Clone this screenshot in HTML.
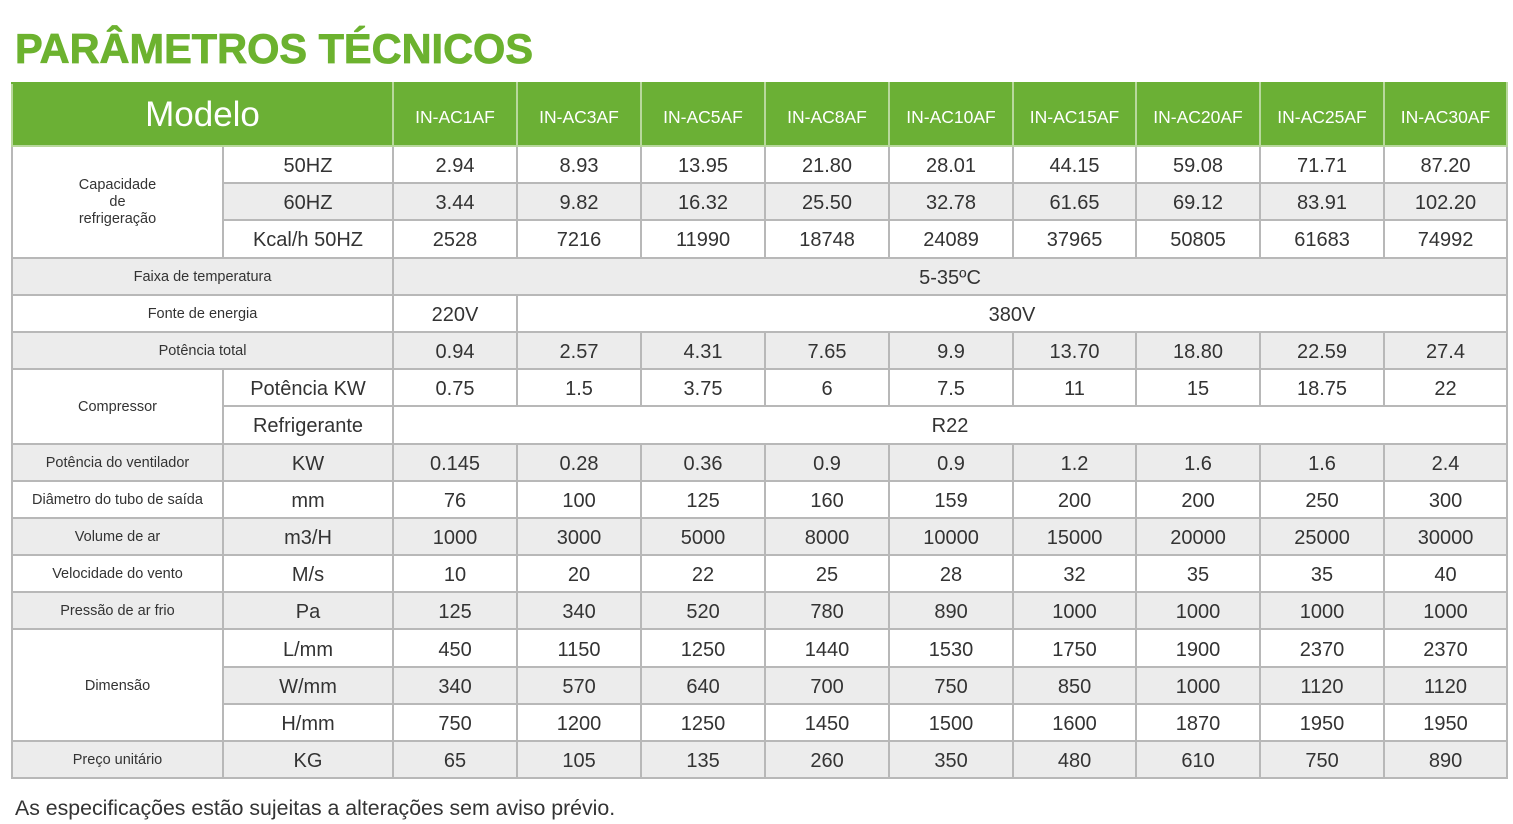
<!DOCTYPE html>
<html><head><meta charset="utf-8"><style>
body{margin:0;width:1513px;height:824px;background:#fff;font-family:"Liberation Sans",sans-serif;position:relative;overflow:hidden}
h1{position:absolute;left:15px;top:25px;margin:0;font-size:41.5px;font-weight:900;color:#6cb22f;letter-spacing:0px;-webkit-text-stroke:0.8px #6cb22f}
table{position:absolute;left:11px;top:82px;border-collapse:collapse;table-layout:fixed;width:1495px}
td,th{border:2px solid #b8b8b8;text-align:center;padding:3px 0 0 0;color:#333;font-size:20px;font-weight:normal;height:32.2px;line-height:32px;overflow:hidden;white-space:nowrap}
th{background:#6bb035;color:#fff;font-size:17.5px;border-color:#b8d89c;height:56px;line-height:56px;padding:5px 0 0 0;border-top-color:#6bb035}
th.m{font-size:35px;padding:0;height:61px;line-height:61px}
td.s{font-size:14.5px;line-height:17px;white-space:normal;padding:2px 0 0 0}
tr.g td{background:#ececec}
td.w{background:#fff!important}
.f{position:absolute;left:15px;top:796px;font-size:21.3px;color:#333}
</style></head><body>
<h1>PARÂMETROS TÉCNICOS</h1>
<table>
<colgroup><col style="width:211px"><col style="width:170px"><col style="width:124px"><col style="width:124px"><col style="width:124px"><col style="width:124px"><col style="width:124px"><col style="width:123px"><col style="width:124px"><col style="width:124px"><col style="width:123px"></colgroup>
<tr><th class="m" colspan="2">Modelo</th><th>IN-AC1AF</th><th>IN-AC3AF</th><th>IN-AC5AF</th><th>IN-AC8AF</th><th>IN-AC10AF</th><th>IN-AC15AF</th><th>IN-AC20AF</th><th>IN-AC25AF</th><th>IN-AC30AF</th></tr>
<tr><td class="s" rowspan="3">Capacidade<br>de<br>refrigeração</td><td>50HZ</td><td>2.94</td><td>8.93</td><td>13.95</td><td>21.80</td><td>28.01</td><td>44.15</td><td>59.08</td><td>71.71</td><td>87.20</td></tr>
<tr class="g"><td>60HZ</td><td>3.44</td><td>9.82</td><td>16.32</td><td>25.50</td><td>32.78</td><td>61.65</td><td>69.12</td><td>83.91</td><td>102.20</td></tr>
<tr><td>Kcal/h 50HZ</td><td>2528</td><td>7216</td><td>11990</td><td>18748</td><td>24089</td><td>37965</td><td>50805</td><td>61683</td><td>74992</td></tr>
<tr class="g"><td class="s" colspan="2">Faixa de temperatura</td><td colspan="9">5-35ºC</td></tr>
<tr><td class="s" colspan="2">Fonte de energia</td><td>220V</td><td colspan="8">380V</td></tr>
<tr class="g"><td class="s" colspan="2">Potência total</td><td>0.94</td><td>2.57</td><td>4.31</td><td>7.65</td><td>9.9</td><td>13.70</td><td>18.80</td><td>22.59</td><td>27.4</td></tr>
<tr><td class="s" rowspan="2">Compressor</td><td>Potência KW</td><td>0.75</td><td>1.5</td><td>3.75</td><td>6</td><td>7.5</td><td>11</td><td>15</td><td>18.75</td><td>22</td></tr>
<tr><td>Refrigerante</td><td colspan="9">R22</td></tr>
<tr class="g"><td class="s">Potência do ventilador</td><td>KW</td><td>0.145</td><td>0.28</td><td>0.36</td><td>0.9</td><td>0.9</td><td>1.2</td><td>1.6</td><td>1.6</td><td>2.4</td></tr>
<tr><td class="s">Diâmetro do tubo de saída</td><td>mm</td><td>76</td><td>100</td><td>125</td><td>160</td><td>159</td><td>200</td><td>200</td><td>250</td><td>300</td></tr>
<tr class="g"><td class="s">Volume de ar</td><td>m3/H</td><td>1000</td><td>3000</td><td>5000</td><td>8000</td><td>10000</td><td>15000</td><td>20000</td><td>25000</td><td>30000</td></tr>
<tr><td class="s">Velocidade do vento</td><td>M/s</td><td>10</td><td>20</td><td>22</td><td>25</td><td>28</td><td>32</td><td>35</td><td>35</td><td>40</td></tr>
<tr class="g"><td class="s">Pressão de ar frio</td><td>Pa</td><td>125</td><td>340</td><td>520</td><td>780</td><td>890</td><td>1000</td><td>1000</td><td>1000</td><td>1000</td></tr>
<tr><td class="s w" rowspan="3">Dimensão</td><td>L/mm</td><td>450</td><td>1150</td><td>1250</td><td>1440</td><td>1530</td><td>1750</td><td>1900</td><td>2370</td><td>2370</td></tr>
<tr class="g"><td>W/mm</td><td>340</td><td>570</td><td>640</td><td>700</td><td>750</td><td>850</td><td>1000</td><td>1120</td><td>1120</td></tr>
<tr><td>H/mm</td><td>750</td><td>1200</td><td>1250</td><td>1450</td><td>1500</td><td>1600</td><td>1870</td><td>1950</td><td>1950</td></tr>
<tr class="g"><td class="s">Preço unitário</td><td>KG</td><td>65</td><td>105</td><td>135</td><td>260</td><td>350</td><td>480</td><td>610</td><td>750</td><td>890</td></tr>
</table>
<div class="f">As especificações estão sujeitas a alterações sem aviso prévio.</div>
</body></html>
